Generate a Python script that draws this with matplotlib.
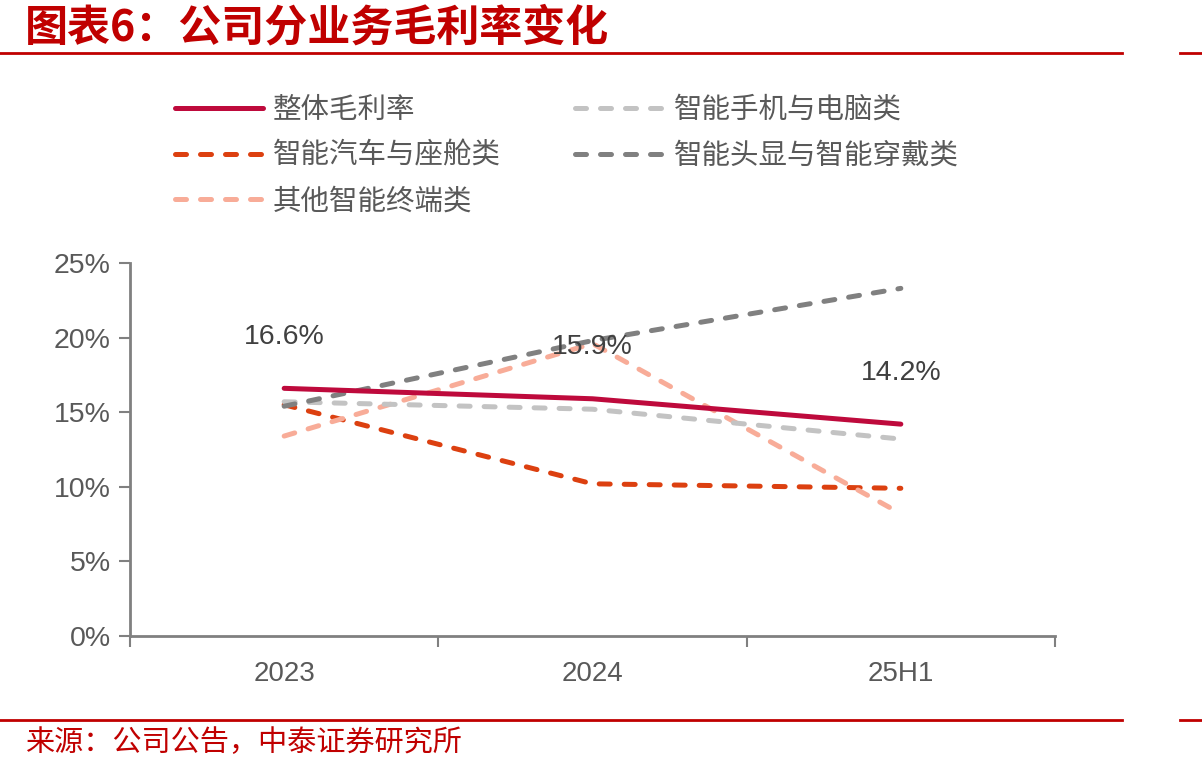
import numpy as np
import matplotlib
matplotlib.use("Agg")
import matplotlib.pyplot as plt
from matplotlib.lines import Line2D

plt.rcParams['font.family'] = ['Liberation Sans', 'Noto Sans CJK SC', 'DejaVu Sans']

# Data (gross margin, %)
periods = ['2023', '2024', '25H1']
overall = [16.6, 15.9, 14.2]
phone_pc = [15.7, 15.2, 13.2]
auto_cabin = [15.5, 10.2, 9.9]
xr_wear = [15.4, 19.8, 23.3]
other = [13.4, 19.6, 8.2]

series = [
    ('整体毛利率', overall, '#BE0A3C', None),
    ('智能汽车与座舱类', auto_cabin, '#DC4010', (2.2, 2.8)),
    ('其他智能终端类', other, '#F8AC98', (2.2, 2.8)),
    ('智能手机与电脑类', phone_pc, '#C3C3C3', (2.2, 2.8)),
    ('智能头显与智能穿戴类', xr_wear, '#808080', (2.2, 2.8)),
]

fig = plt.figure(figsize=(12.02, 7.73), dpi=100)
ax = fig.add_axes([130 / 1202, 1 - 636 / 773, 925 / 1202, 373 / 773])

x = np.arange(len(periods))
handles = []
for label, vals, color, dash in series:
    if dash is None:
        ln, = ax.plot(x, vals, color=color, lw=3.6, solid_capstyle='round', label=label, zorder=3)
    else:
        ln, = ax.plot(x, vals, color=color, lw=3.6, dash_capstyle='round', label=label, zorder=2)
        ln.set_dashes(dash)
    handles.append(ln)

# data labels for overall margin
for xi, v in zip(x, overall):
    ax.annotate(f'{v:.1f}%', (xi, v), xytext=(0, 37), textcoords='offset points',
                ha='center', va='center', fontsize=20.5, color='#404040', zorder=5)

ax.set_xlim(-0.5, 2.5)
ax.set_ylim(0, 25)
ax.set_yticks(np.arange(0, 26, 5))
ax.set_yticklabels([f'{t}%' for t in range(0, 26, 5)])
ax.set_xticks([-0.5, 0.5, 1.5, 2.5])
ax.set_xticklabels([])
ax.set_xticks(x, minor=True)
ax.set_xticklabels(periods, minor=True)
ax.tick_params(axis='x', which='minor', length=0, pad=18, labelsize=20, labelcolor='#595959')
ax.tick_params(axis='x', which='major', length=8, width=1.5, color='#808080', direction='out')
ax.tick_params(axis='y', length=8, width=1.5, color='#808080', labelsize=20.5, labelcolor='#595959', pad=6)

for side in ['top', 'right']:
    ax.spines[side].set_visible(False)
for side in ['left', 'bottom']:
    ax.spines[side].set_color('#808080')
    ax.spines[side].set_linewidth(2)

leg = fig.legend(handles=handles, loc='upper left', bbox_to_anchor=(175 / 1202, 1 - 95 / 773),
                 ncol=2, frameon=False, fontsize=20.5, handlelength=3.1, handletextpad=0.35,
                 columnspacing=2.6, labelspacing=0.55, borderpad=0, borderaxespad=0)
for t in leg.get_texts():
    t.set_color('#595959')
    t.set_family(['Noto Sans CJK SC', 'DejaVu Sans'])

# title, source and red rules
red = '#C00000'
fig.text(25 / 1202, 1 - 27 / 773, '图表6：公司分业务毛利率变化', fontsize=31, fontweight='bold',
         color=red, ha='left', va='center', family=['Noto Sans CJK SC', 'DejaVu Sans'])
fig.text(25 / 1202, 1 - 743 / 773, '来源：公司公告，中泰证券研究所', fontsize=21,
         color=red, ha='left', va='center', family=['Noto Sans CJK SC', 'DejaVu Sans'])
for yy in [53, 720]:
    fig.add_artist(Line2D([0, 1122 / 1202], [1 - yy / 773] * 2, color=red, lw=2))
    fig.add_artist(Line2D([1180 / 1202, 1], [1 - yy / 773] * 2, color=red, lw=2))

fig.savefig('out.png', dpi=100)
